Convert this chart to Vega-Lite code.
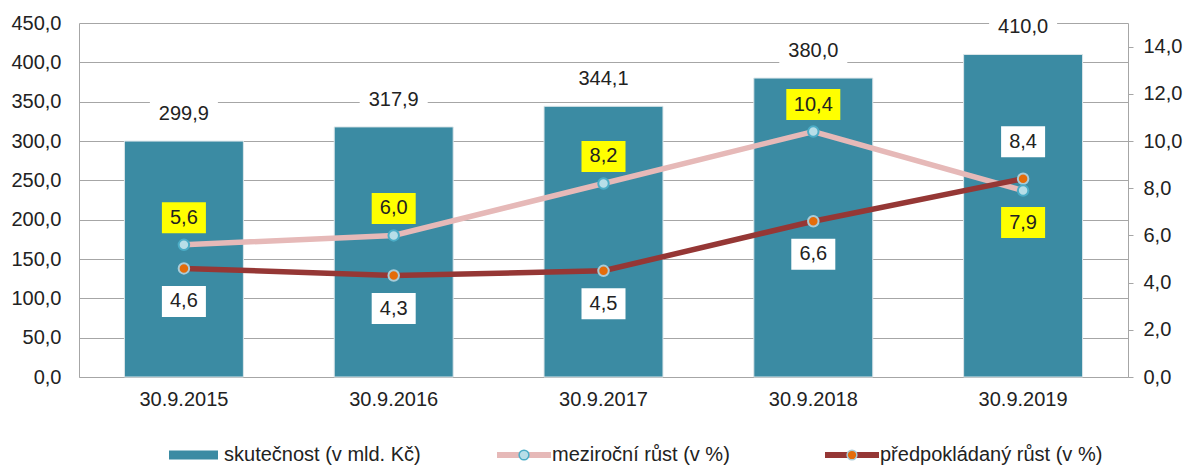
{
  "$schema": "https://vega.github.io/schema/vega-lite/v6.json",
  "background": "white",
  "padding": {"left": 10, "top": 12, "right": 5, "bottom": 0},
  "bounds": "flush",
  "spacing": 70,
  "datasets": {
    "hodnoty": [
      {"datum": "30.9.2015", "skutecnost": 299.9, "mezirocni": 5.6, "predpokladany": 4.6},
      {"datum": "30.9.2016", "skutecnost": 317.9, "mezirocni": 6.0, "predpokladany": 4.3},
      {"datum": "30.9.2017", "skutecnost": 344.1, "mezirocni": 8.2, "predpokladany": 4.5},
      {"datum": "30.9.2018", "skutecnost": 380.0, "mezirocni": 10.4, "predpokladany": 6.6},
      {"datum": "30.9.2019", "skutecnost": 410.0, "mezirocni": 7.9, "predpokladany": 8.4}
    ],
    "legenda": [
      {"polozka": "skutečnost (v mld. Kč)"},
      {"polozka": "meziroční růst (v %)"},
      {"polozka": "předpokládaný růst (v %)"}
    ]
  },
  "vconcat": [
    {
      "data": {"name": "hodnoty"},
      "width": 1049,
      "height": 354,
      "encoding": {
        "x": {"field": "datum", "type": "nominal", "sort": null, "title": null,
          "scale": {"paddingInner": 0.433, "paddingOuter": 0.2165},
          "axis": {"labelAngle": 0, "ticks": false, "labelPadding": 12, "domainColor": "#A6A6A6", "labelFontSize": 20}}
      },
      "layer": [
        {
          "encoding": {
            "y": {"field": "skutecnost", "type": "quantitative", "title": null,
              "scale": {"domain": [0, 450], "nice": false},
              "axis": {"orient": "left", "values": [0, 50, 100, 150, 200, 250, 300, 350, 400, 450], "format": ".1f", "ticks": false, "labelPadding": 18, "grid": true, "gridColor": "#A6A6A6", "domainColor": "#A6A6A6", "labelFontSize": 20}}
          },
          "layer": [
            {"mark": {"type": "bar", "fill": "#3B8BA3", "stroke": "#DCE6EA", "strokeWidth": 1}},
            {"mark": {"type": "point", "shape": "M-1,-0.44L1,-0.44L1,0.44L-1,0.44Z", "size": 4624, "filled": true, "fill": "#FFFFFF", "opacity": 1, "yOffset": -27}},
            {"mark": {"type": "text", "fontSize": 20, "dy": -27, "baseline": "middle", "fill": "#222222"},
              "encoding": {"text": {"field": "skutecnost", "type": "quantitative", "format": ".1f"}}}
          ]
        },
        {
          "layer": [
            {"mark": {"type": "line", "stroke": "#E6B9B8", "strokeWidth": 5.5},
              "encoding": {"y": {"field": "mezirocni", "type": "quantitative", "title": null, "scale": {"domain": [0, 15], "nice": false},
                "axis": {"orient": "right", "values": [0, 2, 4, 6, 8, 10, 12, 14], "format": ".1f", "grid": false, "ticks": true, "tickSize": 5, "tickColor": "#A6A6A6", "domainColor": "#A6A6A6", "labelPadding": 10, "labelFontSize": 20}}}},
            {"mark": {"type": "line", "stroke": "#953735", "strokeWidth": 5.5},
              "encoding": {"y": {"field": "predpokladany", "type": "quantitative", "title": null}}},
            {"mark": {"type": "point", "shape": "circle", "size": 110, "filled": true, "fill": "#E46C0A", "stroke": "#A9CCD8", "strokeWidth": 2, "opacity": 1},
              "encoding": {"y": {"field": "predpokladany", "type": "quantitative", "title": null}}},
            {"mark": {"type": "point", "shape": "circle", "size": 110, "filled": true, "fill": "#B7DEE8", "stroke": "#4BACC6", "strokeWidth": 2, "opacity": 1},
              "encoding": {"y": {"field": "mezirocni", "type": "quantitative", "title": null}}},
            {"transform": [{"filter": "datum.mezirocni >= datum.predpokladany"}],
              "mark": {"type": "point", "size": 2916, "filled": true, "fill": "#FFFF00", "opacity": 1, "yOffset": -27},
              "encoding": {"y": {"field": "mezirocni", "type": "quantitative", "title": null},
                "shape": {"condition": {"test": "datum.mezirocni >= 10", "value": "M-1,-0.574L1,-0.574L1,0.574L-1,0.574Z"}, "value": "M-0.815,-0.574L0.815,-0.574L0.815,0.574L-0.815,0.574Z"}}},
            {"transform": [{"filter": "datum.mezirocni < datum.predpokladany"}],
              "mark": {"type": "point", "size": 2916, "filled": true, "fill": "#FFFF00", "opacity": 1, "yOffset": 32},
              "encoding": {"y": {"field": "mezirocni", "type": "quantitative", "title": null},
                "shape": {"condition": {"test": "datum.mezirocni >= 10", "value": "M-1,-0.574L1,-0.574L1,0.574L-1,0.574Z"}, "value": "M-0.815,-0.574L0.815,-0.574L0.815,0.574L-0.815,0.574Z"}}},
            {"transform": [{"filter": "datum.mezirocni >= datum.predpokladany"}],
              "mark": {"type": "text", "fontSize": 20, "dy": -27, "baseline": "middle", "fill": "#222222"},
              "encoding": {"y": {"field": "mezirocni", "type": "quantitative", "title": null},
                "text": {"field": "mezirocni", "type": "quantitative", "format": ".1f"}}},
            {"transform": [{"filter": "datum.mezirocni < datum.predpokladany"}],
              "mark": {"type": "text", "fontSize": 20, "dy": 32, "baseline": "middle", "fill": "#222222"},
              "encoding": {"y": {"field": "mezirocni", "type": "quantitative", "title": null},
                "text": {"field": "mezirocni", "type": "quantitative", "format": ".1f"}}},
            {"transform": [{"filter": "datum.predpokladany <= datum.mezirocni"}],
              "mark": {"type": "point", "size": 2916, "filled": true, "fill": "#FFFFFF", "opacity": 1, "yOffset": 33, "shape": "M-0.815,-0.574L0.815,-0.574L0.815,0.574L-0.815,0.574Z"},
              "encoding": {"y": {"field": "predpokladany", "type": "quantitative", "title": null}}},
            {"transform": [{"filter": "datum.predpokladany > datum.mezirocni"}],
              "mark": {"type": "point", "size": 2916, "filled": true, "fill": "#FFFFFF", "opacity": 1, "yOffset": -37, "shape": "M-0.815,-0.574L0.815,-0.574L0.815,0.574L-0.815,0.574Z"},
              "encoding": {"y": {"field": "predpokladany", "type": "quantitative", "title": null}}},
            {"transform": [{"filter": "datum.predpokladany <= datum.mezirocni"}],
              "mark": {"type": "text", "fontSize": 20, "dy": 33, "baseline": "middle", "fill": "#222222"},
              "encoding": {"y": {"field": "predpokladany", "type": "quantitative", "title": null},
                "text": {"field": "predpokladany", "type": "quantitative", "format": ".1f"}}},
            {"transform": [{"filter": "datum.predpokladany > datum.mezirocni"}],
              "mark": {"type": "text", "fontSize": 20, "dy": -37, "baseline": "middle", "fill": "#222222"},
              "encoding": {"y": {"field": "predpokladany", "type": "quantitative", "title": null},
                "text": {"field": "predpokladany", "type": "quantitative", "format": ".1f"}}}
          ]
        }
      ],
      "resolve": {"scale": {"y": "independent"}}
    },
    {
      "data": {"name": "legenda"},
      "width": 836,
      "height": 16,
      "encoding": {
        "x": {"field": "polozka", "type": "nominal", "sort": null, "scale": {"type": "point", "padding": 0.2744}, "axis": null}
      },
      "layer": [
        {"transform": [{"filter": "datum.polozka == 'skutečnost (v mld. Kč)'"}],
          "mark": {"type": "point", "shape": "M-1,-0.184L1,-0.184L1,0.184L-1,0.184Z", "size": 2401, "filled": true, "fill": "#3B8BA3", "opacity": 1, "xOffset": 24.5}},
        {"transform": [{"filter": "datum.polozka != 'skutečnost (v mld. Kč)'"}],
          "mark": {"type": "point", "shape": "M-1,-0.11L1,-0.11L1,0.11L-1,0.11Z", "size": 2916, "filled": true, "opacity": 1, "xOffset": 27},
          "encoding": {"fill": {"condition": {"test": "datum.polozka == 'meziroční růst (v %)'", "value": "#E6B9B8"}, "value": "#953735"}}},
        {"transform": [{"filter": "datum.polozka != 'skutečnost (v mld. Kč)'"}],
          "mark": {"type": "point", "shape": "circle", "size": 95, "filled": true, "opacity": 1, "xOffset": 27, "strokeWidth": 1.5},
          "encoding": {
            "fill": {"condition": {"test": "datum.polozka == 'meziroční růst (v %)'", "value": "#B7DEE8"}, "value": "#E46C0A"},
            "stroke": {"condition": {"test": "datum.polozka == 'meziroční růst (v %)'", "value": "#4BACC6"}, "value": "#A9CCD8"}}},
        {"mark": {"type": "text", "align": "left", "dx": 55, "baseline": "middle", "fontSize": 20, "fill": "#222222"},
          "encoding": {"text": {"field": "polozka", "type": "nominal"}}}
      ]
    }
  ],
  "config": {
    "view": {"stroke": null},
    "font": "Liberation Sans",
    "axis": {"labelFont": "Liberation Sans", "labelColor": "#222222", "labelFontSize": 20},
    "text": {"font": "Liberation Sans", "fontSize": 20},
    "locale": {"number": {"decimal": ",", "thousands": " ", "grouping": [3], "currency": ["", " Kč"]}}
  }
}
